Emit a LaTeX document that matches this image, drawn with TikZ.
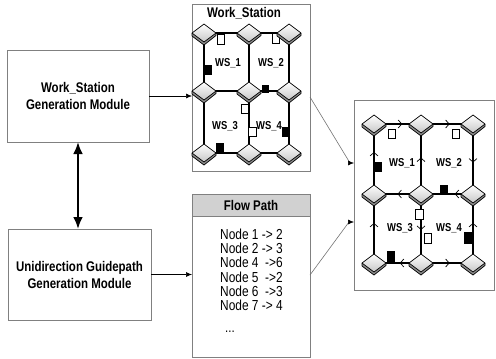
\documentclass[tikz,border=0pt]{standalone}
\usepackage{fontspec}
\setmainfont{Liberation Sans}[FakeStretch=0.82]
\usetikzlibrary{arrows.meta,decorations.markings}

\tikzset{
  modbox/.style={draw=black!50, line width=0.9pt, align=center,
    font=\fontsize{14}{17}\selectfont\bfseries, inner sep=0, outer sep=0},
  panel/.style={draw=black!50, line width=0.9pt, inner sep=0, outer sep=0},
  rail/.style={line width=1.6pt},
  flow/.style={rail, postaction={decorate}, decoration={markings,
    mark=at position #1 with {\arrow{Straight Barb[length=3.5pt,width=8pt,line width=0.7pt]}}}},
  flow/.default=0.5,
  wsq/.style={draw, fill=white, line width=0.6pt, minimum width=7.5, minimum height=9.5, inner sep=0},
  bsq/.style={fill=black, minimum width=7.5, minimum height=10, inner sep=0},
  wslabel/.style={font=\fontsize{11.5}{13}\selectfont\bfseries, inner sep=0},
  boldtitle/.style={font=\fontsize{14}{16}\selectfont\bfseries, inner sep=0},
  listline/.style={font=\fontsize{14.5}{16}\selectfont, anchor=west, inner sep=0},
  feed/.style={-{Latex[length=6pt,width=5pt]}, line width=0.6pt},
  feedgray/.style={-{Latex[length=6pt,width=5pt,color=black]}, draw=black!55, line width=0.6pt},
  pics/junction/.style={code={
    % raised side of the junction plate
    \fill[black!45] (-12,0) -- (0,9) -- (12,0) -- (12,2.5) -- (0,12) -- (-12,3) -- cycle;
    % top face
    \draw[line width=0.7pt, line join=round, top color=white, bottom color=black!22]
      (-12,0) -- (0,-9) -- (12,0) -- (0,9) -- cycle;
    \draw[line width=0.7pt, line join=round] (-12,0) -- (-12,3) -- (0,12) -- (12,2.5) -- (12,0);
  }}
}

\begin{document}
\begin{tikzpicture}[x=1pt,y=-1pt]
\useasboundingbox (0,0) rectangle (496,359);

% generation modules
\node[modbox, minimum width=142, minimum height=92] (wsgen) at (78,96) {Work\_Station\\Generation Module};
\node[modbox, minimum width=143, minimum height=91] (gpgen) at (79.5,274.5) {Unidirection Guidepath\\Generation Module};
\draw[{Latex[length=12pt,width=10pt]}-{Latex[length=12pt,width=10pt]}, line width=2.5pt]
  (wsgen.south) -- (wsgen.south |- gpgen.north);

% work station panel
\node[panel, minimum width=118, minimum height=167] (wsbox) at (251,87.5) {};
\node[boldtitle] (wstitle) at (244,13.5) {Work\_Station};

% flow path panel
\node[panel, minimum width=118, minimum height=163] (flowbox) at (251,275.5) {};
\node[panel, fill=black!18, minimum width=118, minimum height=22, boldtitle] (flowhead) at (251,205) {Flow Path};
\node[listline] (fp1) at (220,234) {Node 1 -> 2};
\node[listline] (fp2) at (220,248.3) {Node 2 -> 3};
\node[listline] (fp3) at (220,262.7) {Node 4\ \ ->6};
\node[listline] (fp4) at (220,276.9) {Node 5\ \ ->2};
\node[listline] (fp5) at (220,291) {Node 6\ \ ->3};
\node[listline] (fp6) at (220,305.2) {Node 7 -> 4};
\node[font=\fontsize{14}{16}\selectfont, inner sep=0] (fpmore) at (230,332) {...};

% combined layout panel
\node[panel, minimum width=140, minimum height=190] (layout) at (424,195) {};

% feeds between blocks
\draw[feed] (wsgen.east) -- (wsgen.east -| wsbox.west);
\draw[feed] (gpgen.east) -- (gpgen.east -| flowbox.west);
\coordinate (wstap) at (310,97);
\coordinate (wsknee) at (350,163);
\coordinate (fptap) at (310,275);
\coordinate (fpknee) at (349,222);
\draw[feedgray] (wstap) -- (wsknee) -- (wsknee -| layout.west);
\draw[feedgray] (fptap) -- (fpknee) -- (fpknee -| layout.west);

% ---- work station grid ----
\foreach \n/\x/\y in {1/204/33, 2/249/33, 3/289/33, 4/204/91, 5/249/91, 6/289/91, 7/204/153, 8/249/153, 9/289/153}
  \coordinate (a\n) at (\x,\y);
\draw[rail] (a1) -- (a2) -- (a3) -- (a6) -- (a9) -- (a8) -- (a7) -- (a4) -- (a1);
\draw[rail] (a4) -- (a5) -- (a6);
\draw[rail] (a2) -- (a5) -- (a8);

\node[wsq] (aw1) at (221,39.5) {};
\node[wsq] (aw2) at (276,38.5) {};
\node[bsq] (ab1) at (208.5,70) {};
\node[bsq, minimum height=8] (ab2) at (265.5,89) {};
\node[wsq] (aw3) at (245,109) {};
\node[wsq] (aw4) at (252.5,132) {};
\node[bsq] (ab3) at (285.5,132) {};
\node[bsq] (ab4) at (220,147.5) {};

\node[wslabel] (al1) at (228,63) {WS\_1};
\node[wslabel] (al2) at (271,63) {WS\_2};
\node[wslabel] (al3) at (225,126) {WS\_3};
\node[wslabel] (al4) at (269,126) {WS\_4};

\foreach \n in {1,...,9} \pic at (a\n) {junction};

% ---- combined layout grid with travel directions ----
\foreach \n/\x/\y in {1/374/124, 2/421/124, 3/473/124, 4/374/194, 5/421/194, 6/473/194, 7/374/263, 8/421/263, 9/473/263}
  \coordinate (b\n) at (\x,\y);
\draw[flow=0.6] (b1) -- (b2);
\draw[flow=0.55] (b2) -- (b3);
\draw[flow=0.55] (b3) -- (b6);
\draw[flow=0.35] (b6) -- (b5);
\draw[flow=0.5] (b5) -- (b4);
\draw[flow=0.6] (b4) -- (b1);
\draw[flow=0.52] (b5) -- (b2);
\draw[flow=0.58] (b7) -- (b4);
\draw[flow=0.52] (b5) -- (b8);
\draw[flow=0.58] (b9) -- (b6);
\draw[flow=0.45] (b8) -- (b7);
\draw[flow=0.55] (b8) -- (b9);

\node[wsq] (bw1) at (392,134) {};
\node[wsq] (bw2) at (456,134) {};
\node[bsq] (bb1) at (378.5,167) {};
\node[bsq, minimum height=9] (bb2) at (444,189.5) {};
\node[wsq, minimum height=10] (bw3) at (419.5,214) {};
\node[wsq, minimum height=10] (bw4) at (428,238) {};
\node[bsq, minimum height=12] (bb3) at (468,237.5) {};
\node[bsq, minimum height=12] (bb4) at (391,257) {};

\node[wslabel] (bl1) at (402,163) {WS\_1};
\node[wslabel] (bl2) at (449,163) {WS\_2};
\node[wslabel] (bl3) at (400,228) {WS\_3};
\node[wslabel] (bl4) at (449,228) {WS\_4};

\foreach \n in {1,...,9} \pic at (b\n) {junction};
\end{tikzpicture}
\end{document}
